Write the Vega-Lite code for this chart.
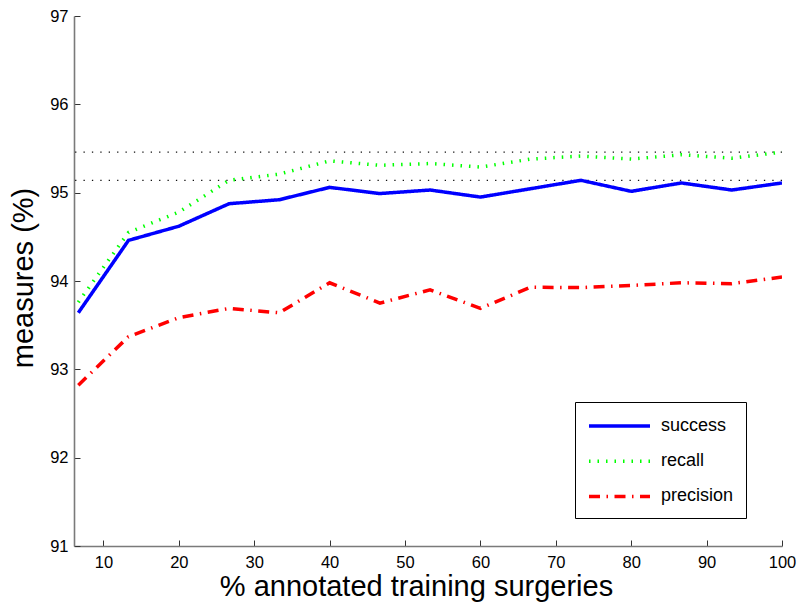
{
  "$schema": "https://vega.github.io/schema/vega-lite/v6.json",
  "autosize": "none",
  "width": 708,
  "height": 530,
  "padding": {"top": 16, "left": 74, "right": 18, "bottom": 60},
  "background": "white",
  "config": {
    "view": {"stroke": null},
    "font": "Liberation Sans",
    "axis": {
      "grid": false,
      "domainColor": "#7a7a7a",
      "domainWidth": 1.6,
      "tickColor": "#333333",
      "tickWidth": 1,
      "tickSize": -6,
      "labelFont": "Liberation Sans",
      "labelFontSize": 16.5,
      "labelColor": "#000000",
      "titleFont": "Liberation Sans",
      "titleFontSize": 29,
      "titleFontWeight": "normal",
      "titleColor": "#000000"
    },
    "legend": {
      "strokeColor": "#000000",
      "fillColor": "#ffffff"
    }
  },
  "datasets": {
    "measures": [
      {"x": 6.67, "series": "success", "y": 93.64},
      {"x": 13.33, "series": "success", "y": 94.46},
      {"x": 20, "series": "success", "y": 94.62},
      {"x": 26.67, "series": "success", "y": 94.875},
      {"x": 33.33, "series": "success", "y": 94.92},
      {"x": 40, "series": "success", "y": 95.06},
      {"x": 46.67, "series": "success", "y": 94.99},
      {"x": 53.33, "series": "success", "y": 95.03},
      {"x": 60, "series": "success", "y": 94.95},
      {"x": 66.67, "series": "success", "y": 95.045},
      {"x": 73.33, "series": "success", "y": 95.14},
      {"x": 80, "series": "success", "y": 95.015},
      {"x": 86.67, "series": "success", "y": 95.11},
      {"x": 93.33, "series": "success", "y": 95.03},
      {"x": 100, "series": "success", "y": 95.11},
      {"x": 6.67, "series": "recall", "y": 93.76},
      {"x": 13.33, "series": "recall", "y": 94.55},
      {"x": 20, "series": "recall", "y": 94.78},
      {"x": 26.67, "series": "recall", "y": 95.14},
      {"x": 33.33, "series": "recall", "y": 95.21},
      {"x": 40, "series": "recall", "y": 95.36},
      {"x": 46.67, "series": "recall", "y": 95.31},
      {"x": 53.33, "series": "recall", "y": 95.33},
      {"x": 60, "series": "recall", "y": 95.29},
      {"x": 66.67, "series": "recall", "y": 95.38},
      {"x": 73.33, "series": "recall", "y": 95.415},
      {"x": 80, "series": "recall", "y": 95.38},
      {"x": 86.67, "series": "recall", "y": 95.43},
      {"x": 93.33, "series": "recall", "y": 95.39},
      {"x": 100, "series": "recall", "y": 95.46},
      {"x": 6.67, "series": "precision", "y": 92.82},
      {"x": 13.33, "series": "precision", "y": 93.37},
      {"x": 20, "series": "precision", "y": 93.585},
      {"x": 26.67, "series": "precision", "y": 93.69},
      {"x": 33.33, "series": "precision", "y": 93.64},
      {"x": 40, "series": "precision", "y": 93.98},
      {"x": 46.67, "series": "precision", "y": 93.75},
      {"x": 53.33, "series": "precision", "y": 93.9},
      {"x": 60, "series": "precision", "y": 93.69},
      {"x": 66.67, "series": "precision", "y": 93.93},
      {"x": 73.33, "series": "precision", "y": 93.925},
      {"x": 80, "series": "precision", "y": 93.95},
      {"x": 86.67, "series": "precision", "y": 93.98},
      {"x": 93.33, "series": "precision", "y": 93.97},
      {"x": 100, "series": "precision", "y": 94.045}
    ],
    "maxima": [
      {"label": "max recall", "y": 95.46},
      {"label": "max success", "y": 95.14}
    ]
  },
  "layer": [
    {
      "data": {"name": "maxima"},
      "mark": {"type": "rule", "color": "#111111", "strokeWidth": 1.3, "strokeDash": [1.3, 7.1]},
      "encoding": {
        "y": {"field": "y", "type": "quantitative", "scale": {"domain": [91, 97]}}
      }
    },
    {
      "data": {"name": "measures"},
      "mark": {"type": "line", "strokeWidth": 3.5, "strokeCap": "butt", "clip": true},
      "encoding": {
        "x": {
          "field": "x",
          "type": "quantitative",
          "scale": {"domain": [6.1, 100], "nice": false, "zero": false},
          "axis": {
            "values": [10, 20, 30, 40, 50, 60, 70, 80, 90, 100],
            "format": "d",
            "title": "% annotated training surgeries",
            "titleX": 342,
            "titleY": 49,
            "titleBaseline": "alphabetic",
            "labelPadding": 14,
            "labelFlush": false
          }
        },
        "y": {
          "field": "y",
          "type": "quantitative",
          "scale": {"domain": [91, 97], "nice": false, "zero": false},
          "axis": {
            "values": [91, 92, 93, 94, 95, 96, 97],
            "format": "d",
            "title": "measures (%)",
            "titleAngle": -90,
            "titleX": -42,
            "titleY": 261.5,
            "titleBaseline": "alphabetic",
            "labelPadding": 12,
            "labelFlush": false
          }
        },
        "color": {
          "field": "series",
          "type": "nominal",
          "sort": ["success", "recall", "precision"],
          "scale": {"domain": ["success", "recall", "precision"], "range": ["#0000ff", "#00ff00", "#ff0000"]},
          "legend": {
            "title": null,
            "orient": "none",
            "legendX": 501,
            "legendY": 386,
            "padding": 12,
            "symbolType": "M-1,0H5.1",
            "symbolSize": 400,
            "symbolStrokeWidth": 3.5,
            "labelFontSize": 18,
            "labelFont": "Liberation Sans",
            "labelColor": "#000000",
            "labelOffset": 50,
            "rowPadding": 14.2,
            "labelBaseline": "middle"
          }
        },
        "strokeDash": {
          "field": "series",
          "type": "nominal",
          "sort": ["success", "recall", "precision"],
          "scale": {"domain": ["success", "recall", "precision"], "range": [[1, 0], [1.5, 7], [11, 6.5, 1.5, 6.5]]},
          "legend": {
            "title": null,
            "orient": "none",
            "legendX": 501,
            "legendY": 386,
            "padding": 12,
            "symbolType": "M-1,0H5.1",
            "symbolSize": 400,
            "symbolStrokeWidth": 3.5,
            "labelFontSize": 18,
            "labelFont": "Liberation Sans",
            "labelColor": "#000000",
            "labelOffset": 50,
            "rowPadding": 14.2,
            "labelBaseline": "middle"
          }
        }
      }
    }
  ]
}
